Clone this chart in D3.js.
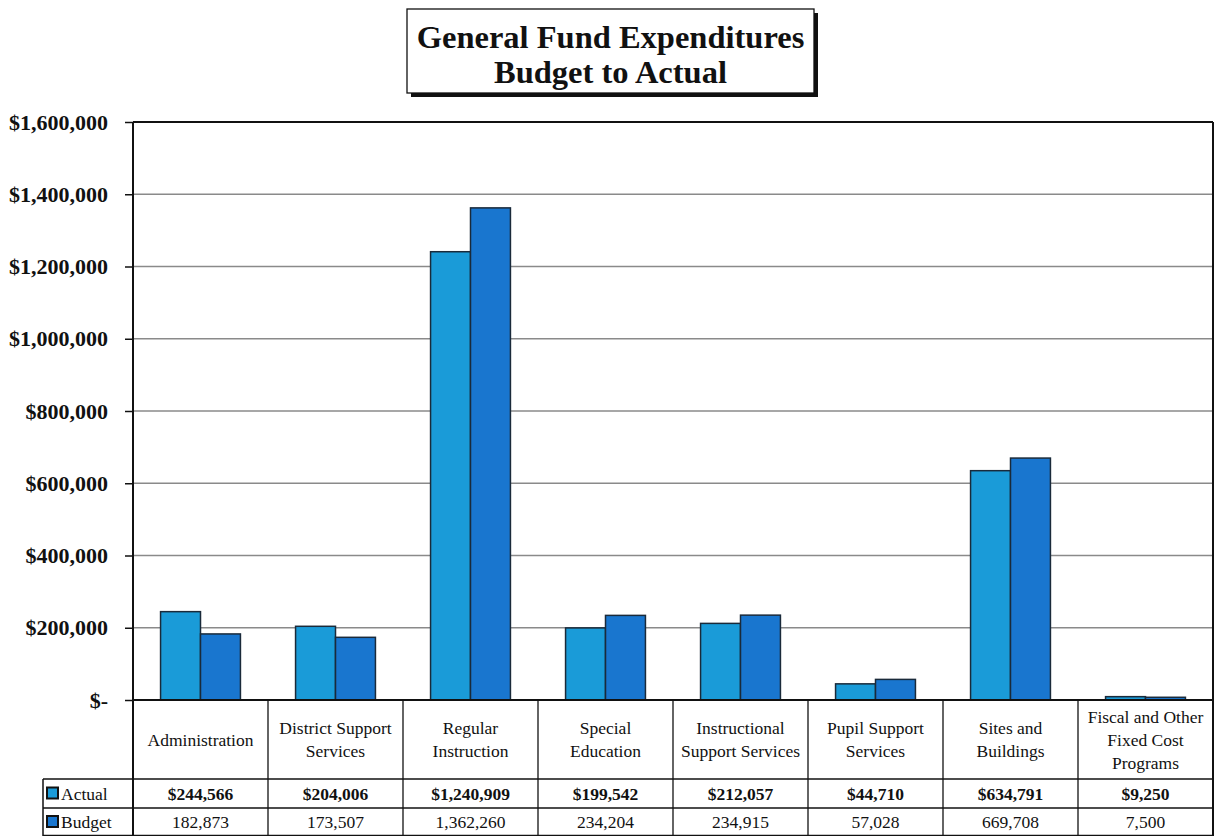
<!DOCTYPE html>
<html>
<head>
<meta charset="utf-8">
<script src="https://cdn.jsdelivr.net/npm/d3@7/dist/d3.min.js"></script>
<style>
  html, body { margin: 0; padding: 0; background: #fff; }
  svg { display: block; font-family: "Liberation Serif", "Times New Roman", serif; }
</style>
</head>
<body>
<svg id="chart" width="1224" height="836"></svg>
<script>
// ---- data ----
const categories = ["Administration", "District Support Services", "Regular Instruction", "Special Education",
  "Instructional Support Services", "Pupil Support Services", "Sites and Buildings", "Fiscal and Other Fixed Cost Programs"];
const categoryLines = [["Administration"], ["District Support", "Services"], ["Regular", "Instruction"],
  ["Special", "Education"], ["Instructional", "Support Services"], ["Pupil Support", "Services"],
  ["Sites and", "Buildings"], ["Fiscal and Other", "Fixed Cost", "Programs"]];
const seriesNames = ["Actual", "Budget"];
const actualValues = [244566, 204006, 1240909, 199542, 212057, 44710, 634791, 9250];
const budgetValues = [182873, 173507, 1362260, 234204, 234915, 57028, 669708, 7500];
const actualLabels = ["$244,566", "$204,006", "$1,240,909", "$199,542", "$212,057", "$44,710", "$634,791", "$9,250"];
const budgetLabels = ["182,873", "173,507", "1,362,260", "234,204", "234,915", "57,028", "669,708", "7,500"];
const yTicks = [0, 200000, 400000, 600000, 800000, 1000000, 1200000, 1400000, 1600000];
const titleLines = ["General Fund Expenditures", "Budget to Actual"];

const colors = { Actual: "#1a9bd8", Budget: "#1976cf" };

const svg = d3.select("#chart");
const L = 133, R = 1213, T = 122, B = 700;
const rowTop1 = 779, rowTop2 = 808, rowBottom = 836, legendLeft = 43;

const x = d3.scaleBand().domain(categories).range([L, R]).paddingInner(0).paddingOuter(0);
const x1 = d3.scaleBand().domain(seriesNames).range([0, x.bandwidth()]).paddingInner(0).paddingOuter(0.69);
const y = d3.scaleLinear().domain([0, 1600000]).range([B, T]);

// gridlines
svg.append("g").selectAll("line").data(yTicks.filter(d => d > 0 && d < 1600000)).join("line")
  .attr("x1", L).attr("x2", R).attr("y1", d => y(d)).attr("y2", d => y(d))
  .attr("stroke", "#8a8a8a").attr("stroke-width", 1.3);

// bars
const data = categories.map((c, i) => ({ cat: c, Actual: actualValues[i], Budget: budgetValues[i] }));
const g = svg.append("g");
g.selectAll("g").data(data).join("g")
  .attr("transform", d => `translate(${x(d.cat)},0)`)
  .selectAll("rect").data(d => seriesNames.map(s => ({ s, v: d[s] }))).join("rect")
  .attr("x", d => x1(d.s)).attr("width", x1.bandwidth())
  .attr("y", d => y(d.v)).attr("height", d => B - y(d.v))
  .attr("fill", d => colors[d.s]).attr("stroke", "#1a2a3a").attr("stroke-width", 1.5);

// y axis
const yAxis = d3.axisLeft(y).tickValues(yTicks).tickSize(8).tickPadding(17)
  .tickFormat(d => d === 0 ? "$-" : d3.format("$,")(d));
const ya = svg.append("g").attr("transform", `translate(${L},0)`).call(yAxis);
ya.select(".domain").remove();
ya.selectAll(".tick line").attr("stroke", "#111").attr("stroke-width", 1.5);
ya.selectAll(".tick text").attr("fill", "#111").attr("font-size", 22).attr("font-weight", "bold")
  .attr("font-family", "Liberation Serif, serif");

// frame lines
const lines = [
  [L, T, R, T, 1.8], [L, T, L, rowBottom, 2], [R, T, R, rowBottom, 2], [L, B, R, B, 2],
  [legendLeft, rowTop1, R, rowTop1, 1.5], [legendLeft, rowTop2, R, rowTop2, 1.5],
  [legendLeft, rowTop1, legendLeft, rowBottom, 1.5], [legendLeft, rowBottom - 0.5, R, rowBottom - 0.5, 1.5]
];
svg.append("g").selectAll("line").data(lines).join("line")
  .attr("x1", d => d[0]).attr("y1", d => d[1]).attr("x2", d => d[2]).attr("y2", d => d[3])
  .attr("stroke", "#111").attr("stroke-width", d => d[4]);
// table verticals
svg.append("g").selectAll("line").data(categories.slice(1)).join("line")
  .attr("x1", d => x(d)).attr("x2", d => x(d)).attr("y1", B).attr("y2", rowBottom)
  .attr("stroke", "#111").attr("stroke-width", 1.3);

// header labels
const hdr = svg.append("g").attr("font-size", 17.5).attr("fill", "#111").attr("text-anchor", "middle");
categories.forEach((c, i) => {
  const lines = categoryLines[i];
  const lh = 23;
  const cy = (B + rowTop1) / 2;
  const y0 = cy - (lines.length - 1) * lh / 2 + 6;
  const t = hdr.append("text").attr("x", x(c) + x.bandwidth() / 2);
  lines.forEach((ln, j) => t.append("tspan").attr("x", x(c) + x.bandwidth() / 2).attr("y", y0 + j * lh).text(ln));
});

// value rows
const rows = [{ name: "Actual", labels: actualLabels, top: rowTop1, bold: true },
              { name: "Budget", labels: budgetLabels, top: rowTop2, bold: false }];
rows.forEach(r => {
  const cy = (r.top + (r.top === rowTop1 ? rowTop2 : rowBottom)) / 2 + 6;
  svg.append("g").selectAll("text").data(categories).join("text")
    .attr("x", d => x(d) + x.bandwidth() / 2).attr("y", cy)
    .attr("text-anchor", "middle").attr("font-size", 17.5).attr("fill", "#111")
    .attr("font-weight", r.bold ? "bold" : "normal")
    .text((d, i) => r.labels[i]);
  svg.append("rect").attr("x", 47).attr("y", cy - 12).attr("width", 11).attr("height", 11)
    .attr("fill", colors[r.name]).attr("stroke", "#111").attr("stroke-width", 2);
  svg.append("text").attr("x", 61).attr("y", cy).attr("font-size", 17.5).attr("fill", "#111")
    .text(r.name);
});

// title box
const tb = { x: 407, y: 9, w: 407, h: 84 };
svg.append("rect").attr("x", tb.x + 4).attr("y", tb.y + 4).attr("width", tb.w).attr("height", tb.h).attr("fill", "#111");
svg.append("rect").attr("x", tb.x).attr("y", tb.y).attr("width", tb.w).attr("height", tb.h)
  .attr("fill", "#fff").attr("stroke", "#111").attr("stroke-width", 1.3);
svg.append("g").selectAll("text").data(titleLines).join("text")
  .attr("x", tb.x + tb.w / 2).attr("y", (d, i) => 48 + i * 35)
  .attr("text-anchor", "middle").attr("font-size", 32.5).attr("font-weight", "bold").attr("fill", "#111")
  .text(d => d);
</script>
</body>
</html>
